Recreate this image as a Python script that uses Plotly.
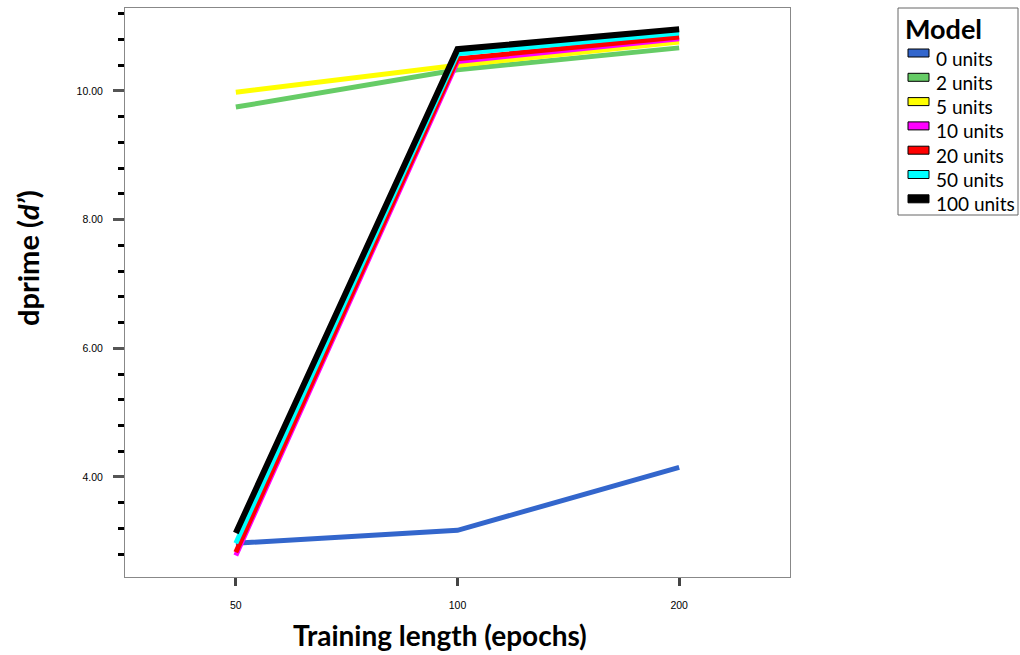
import plotly.graph_objects as go

epochs = ["50", "100", "200"]
models = ["0 units", "2 units", "5 units", "10 units", "20 units", "50 units", "100 units"]
colors = ["#3366CC", "#66CC66", "#FFFF00", "#FF00FF", "#FF0000", "#00FFFF", "#000000"]
widths = [5, 5, 5, 5, 5, 5, 6]
d_0 = [2.97, 3.17, 4.15]
d_2 = [9.75, 10.33, 10.67]
d_5 = [9.98, 10.40, 10.76]
d_10 = [2.78, 10.46, 10.81]
d_20 = [2.83, 10.50, 10.84]
d_50 = [2.97, 10.58, 10.90]
d_100 = [3.13, 10.65, 10.96]
series = [d_0, d_2, d_5, d_10, d_20, d_50, d_100]

W, H = 1020, 655
L, R, T, B = 125, 790, 8, 577

def px(x):
    return (x - L) / (R - L)

def py(y):
    return (B - y) / (B - T)

fig = go.Figure()
for name, vals, c, w in zip(models, series, colors, widths):
    fig.add_trace(go.Scatter(x=epochs, y=vals, mode="lines", name=name,
                             line=dict(color=c, width=w), showlegend=False))

shapes = []
annotations = []
# legend box
shapes.append(dict(type="rect", xref="paper", yref="paper", x0=px(898), x1=px(1018),
                   y0=py(215), y1=py(8), line=dict(color="#666666", width=1), fillcolor="white"))
annotations.append(dict(text="<b>Model</b>", xref="paper", yref="paper", x=px(903), y=py(29),
                        xanchor="left", yanchor="middle", showarrow=False,
                        font=dict(family="Lato", size=27, color="black")))
for i, (name, c) in enumerate(zip(models, colors)):
    yc = 58 + i * 24.3
    shapes.append(dict(type="rect", xref="paper", yref="paper", x0=px(908), x1=px(929),
                       y0=py(yc - 1), y1=py(yc - 9), fillcolor=c,
                       line=dict(color="black", width=1)))
    annotations.append(dict(text=name, xref="paper", yref="paper", x=px(934), y=py(yc),
                            xanchor="left", yanchor="middle", showarrow=False,
                            font=dict(family="Lato", size=19, color="black")))
annotations.append(dict(text="<b>Training length (epochs)</b>", xref="paper", yref="paper",
                        x=px(440), y=py(635), xanchor="center", yanchor="middle", showarrow=False,
                        font=dict(family="Lato", size=28, color="black")))
annotations.append(dict(text="<b>dprime (<i>d’</i>)</b>", xref="paper", yref="paper",
                        x=px(27), y=py(258), xanchor="center", yanchor="middle", showarrow=False,
                        textangle=-90, font=dict(family="Lato", size=29, color="black")))

fig.update_layout(
    width=W, height=H,
    margin=dict(l=L, r=W - R, t=T, b=H - B),
    paper_bgcolor="white", plot_bgcolor="white",
    showlegend=False,
    shapes=shapes, annotations=annotations,
    xaxis=dict(type="category", range=[-0.5, 2.5], showgrid=False, zeroline=False,
               showline=True, mirror=True, linecolor="#888888", linewidth=1,
               ticks="outside", ticklen=8, tickwidth=3, tickcolor="#444444",
               ticklabelstandoff=10,
               tickfont=dict(family="Liberation Sans", size=10.5, color="black")),
    yaxis=dict(range=[2.445, 11.29], showgrid=False, zeroline=False,
               showline=True, mirror=True, linecolor="#888888", linewidth=1,
               tick0=0, dtick=2, tickformat=".2f",
               ticks="outside", ticklen=11, tickwidth=3, tickcolor="#555555",
               ticklabelstandoff=8,
               tickfont=dict(family="Liberation Sans", size=10.5, color="black"),
               minor=dict(tick0=0, dtick=0.4, ticks="outside", ticklen=6, tickwidth=3,
                          tickcolor="black", showgrid=False)),
)

fig.write_html("out.html", config={"displayModeBar": False},
               post_script="document.body.style.margin='0';document.body.style.overflow='hidden';")
